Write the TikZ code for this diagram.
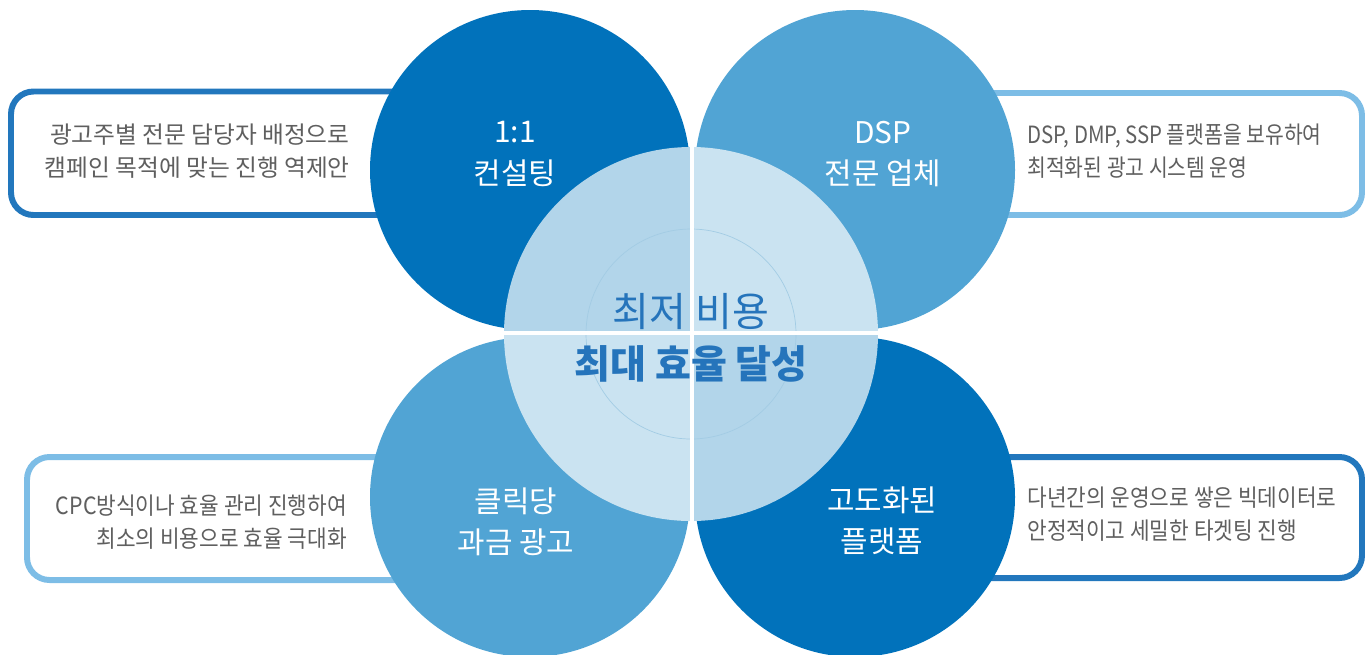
\documentclass[tikz,border=0pt]{standalone}
\usepackage{fontspec}
\setmainfont{Noto Sans CJK KR}
\newfontfamily\sidefont[FakeStretch=0.9]{Noto Sans CJK KR}
\newfontfamily\narrowfont[FakeStretch=0.86]{Noto Sans CJK KR}
\usetikzlibrary{positioning}
\definecolor{deepblue}{HTML}{0172BB}
\definecolor{midblue}{HTML}{51A4D4}
\definecolor{paleA}{HTML}{B2D5EA}
\definecolor{paleB}{HTML}{CAE3F1}
\definecolor{ringline}{HTML}{A3CCE4}
\definecolor{edgedark}{HTML}{2277BD}
\definecolor{edgelight}{HTML}{7DBDE6}
\definecolor{sidegray}{HTML}{5F5F5F}
\definecolor{coretext}{HTML}{2574BB}

\begin{document}
\begin{tikzpicture}[x=0.02cm, y=-0.02cm,
  every node/.style={inner sep=0pt},
  sidebox/.style={line width=3.4pt, fill=white, rounded corners=0.45cm},
  sidetext/.style={font=\sidefont\fontsize{13.5}{19}\selectfont, text=sidegray, align=#1},
  lbl/.style={font=\fontsize{17}{23.4}\selectfont, text=white, align=center}]
   \useasboundingbox (0,0) rectangle (1365,654);
   % Boxes behind the circles
   \draw[sidebox, draw=edgedark]  (11,91.5) rectangle (560,215);
   \draw[sidebox, draw=edgelight] (820,93) rectangle (1362,215);
   \draw[sidebox, draw=edgelight] (27,457) rectangle (560,580);
   \draw[sidebox, draw=edgedark]  (820,457) rectangle (1362,578);

   % Four outer circles, each kept in its own quarter
   \begin{scope}
     \clip (0,0) rectangle (692,333);
     \fill[deepblue] (530,170) circle[radius=160];
     \fill[paleA] (691,334) circle[radius=187];
   \end{scope}
   \begin{scope}
     \clip (692,0) rectangle (1365,333);
     \fill[midblue] (855,170) circle[radius=160];
     \fill[paleB] (691,334) circle[radius=187];
   \end{scope}
   \begin{scope}
     \clip (0,333) rectangle (692,654);
     \fill[midblue] (530,497) circle[radius=160];
     \fill[paleB] (691,334) circle[radius=187];
   \end{scope}
   \begin{scope}
     \clip (692,333) rectangle (1365,654);
     \fill[deepblue] (855,497) circle[radius=160];
     \fill[paleA] (691,334) circle[radius=187];
   \end{scope}
   % faint inner ring
   \draw[ringline, line width=0.4pt] (691,334) circle[radius=105];
   % white cross
   \draw[white, line width=2.4pt] (692,0) -- (692,654);
   \draw[white, line width=2.4pt] (340,333) -- (1040,333);

   % Circle labels
   \node[lbl] (consult) at (515,154) {1:1\\컨설팅};
   \node[lbl] (dsp) at (883,154) {DSP\\전문 업체};
   \node[lbl] (cpc) at (516,522) {클릭당\\과금 광고};
   \node[lbl] (platform) at (882,521) {고도화된\\플랫폼};

   % Middle
   \node[font=\fontsize{22.8}{27}\selectfont, text=coretext] (lowcost) at (691,312) {최저 비용};
   \node[font=\bfseries\fontsize{22.2}{27}\selectfont, text=coretext] (topeff) at (691,364) {최대 효율 달성};

   % Side texts
   \node[sidetext=right, anchor=east, font=\rmfamily\fontsize{13.5}{19}\selectfont] (noteA) at (350,151) {광고주별 전문 담당자 배정으로\\캠페인 목적에 맞는 진행 역제안};
   \node[sidetext=left, anchor=west, font=\narrowfont\fontsize{13.5}{19}\selectfont] (noteB) at (1027,151) {DSP, DMP, SSP 플랫폼을 보유하여\\최적화된 광고 시스템 운영};
   \node[sidetext=right, anchor=east] (noteC) at (347,522) {CPC방식이나 효율 관리 진행하여\\최소의 비용으로 효율 극대화};
   \node[sidetext=left, anchor=west] (noteD) at (1027,514) {다년간의 운영으로 쌓은 빅데이터로\\안정적이고 세밀한 타겟팅 진행};
\end{tikzpicture}
\end{document}
